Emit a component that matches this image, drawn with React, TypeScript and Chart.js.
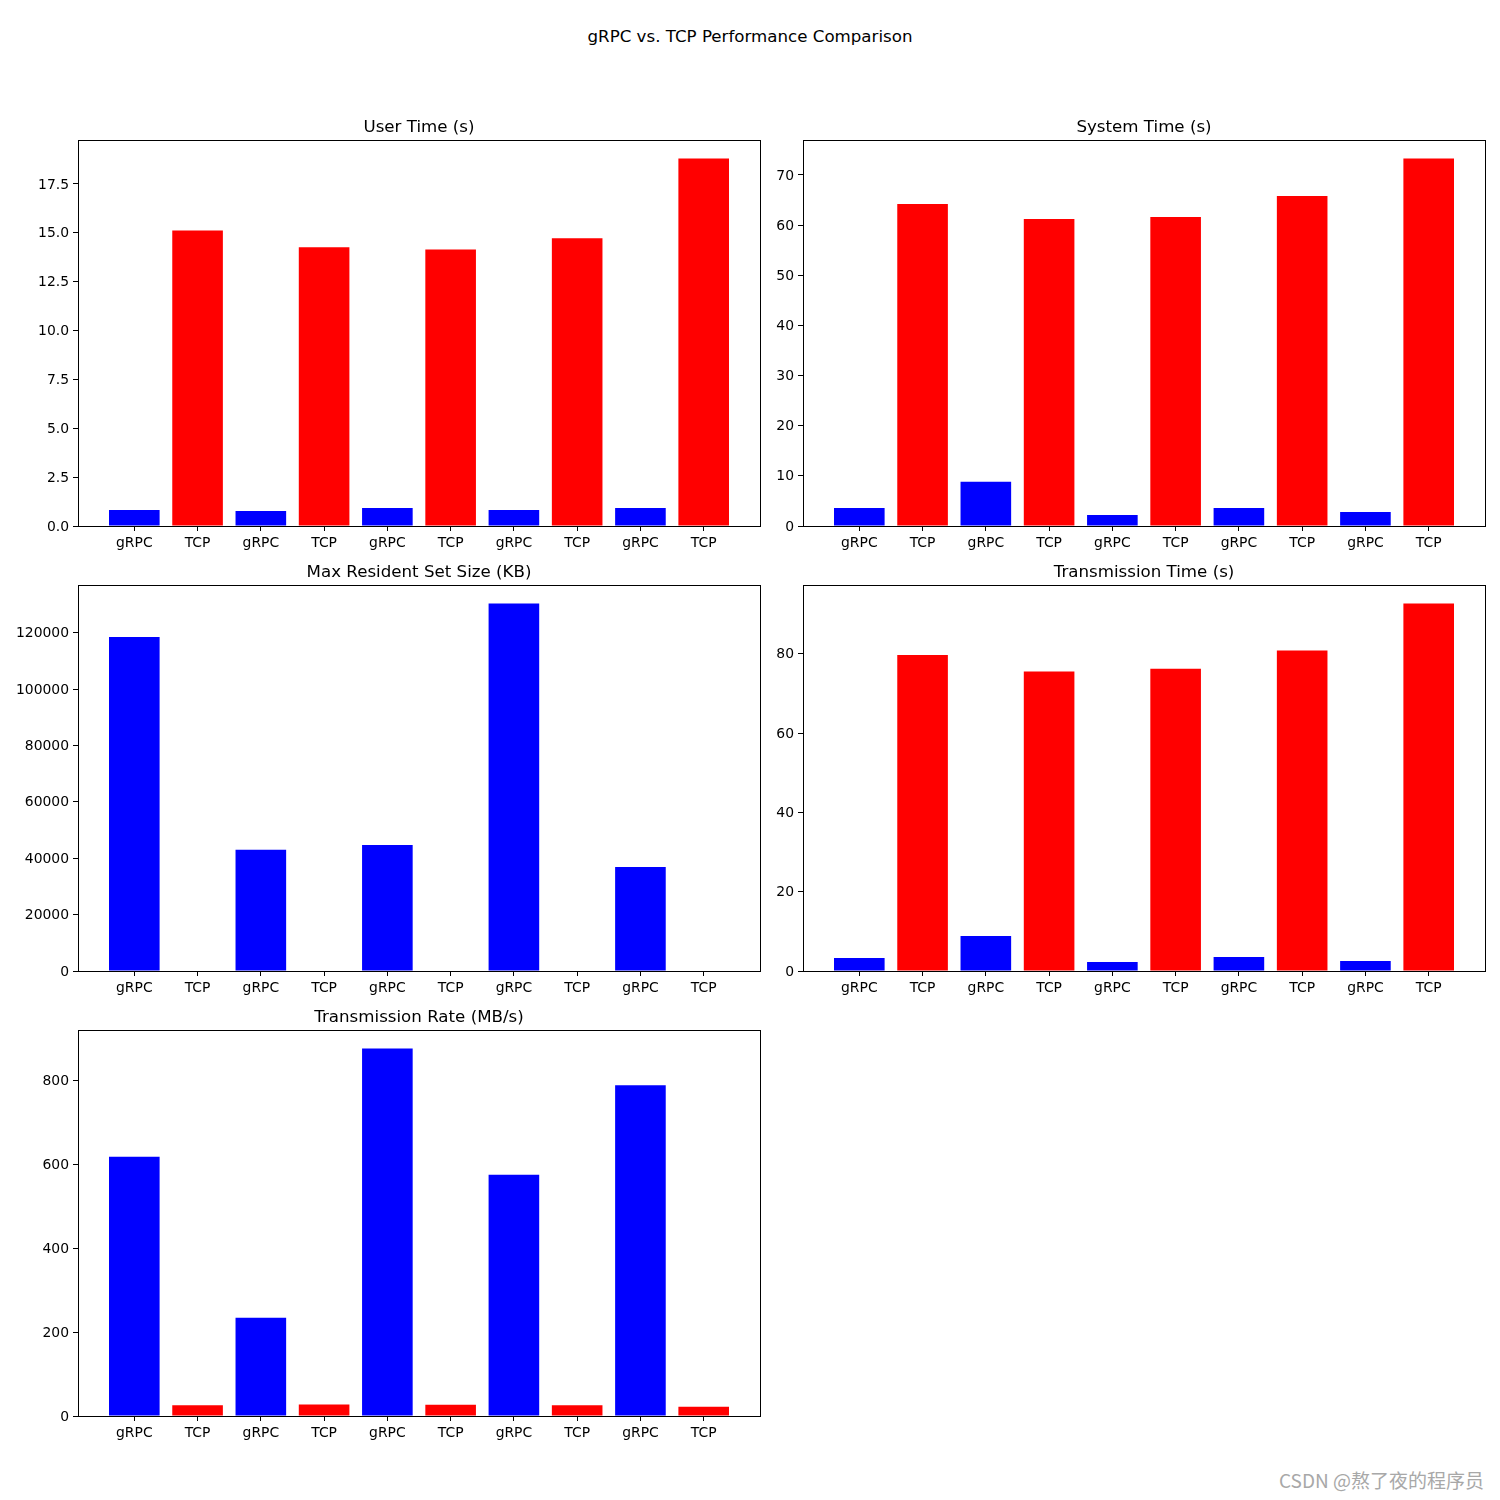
import React, { useEffect, useRef } from 'react';
import { Chart, registerables } from 'chart.js';

Chart.register(...registerables);

// ---- data ----
const categories = ['gRPC', 'TCP', 'gRPC', 'TCP', 'gRPC', 'TCP', 'gRPC', 'TCP', 'gRPC', 'TCP'];

const grpcUserTime = [0.82, 0.77, 0.92, 0.82, 0.92];
const tcpUserTime = [15.12, 14.26, 14.15, 14.72, 18.81];

const grpcSystemTime = [3.6, 8.8, 2.2, 3.6, 2.8];
const tcpSystemTime = [64.2, 61.2, 61.6, 65.8, 73.3];

const grpcMaxRss = [118500, 43000, 44700, 130400, 36900];
const tcpMaxRss = [0, 0, 0, 0, 0];

const grpcTransTime = [3.3, 8.8, 2.3, 3.55, 2.55];
const tcpTransTime = [79.7, 75.5, 76.2, 80.8, 92.7];

const grpcRate = [618, 234, 876, 575, 788];
const tcpRate = [25.8, 27.2, 26.9, 25.4, 22.1];

const superTitle = 'gRPC vs. TCP Performance Comparison';
const watermark = 'CSDN @熬了夜的程序员';

const GRPC_COLOR = '#0000ff';
const TCP_COLOR = '#ff0000';
const FONT = "'DejaVu Sans', 'Noto Sans', sans-serif";

type Panel = {
  title: string;
  grpc: number[];
  tcp: number[];
  step: number;
  decimals: number;
  box: [number, number, number, number]; // L, T, R, B of axes
};

const panels: Panel[] = [
  { title: 'User Time (s)', grpc: grpcUserTime, tcp: tcpUserTime, step: 2.5, decimals: 1, box: [78, 140, 760, 526] },
  { title: 'System Time (s)', grpc: grpcSystemTime, tcp: tcpSystemTime, step: 10, decimals: 0, box: [803, 140, 1485, 526] },
  { title: 'Max Resident Set Size (KB)', grpc: grpcMaxRss, tcp: tcpMaxRss, step: 20000, decimals: 0, box: [78, 585, 760, 971] },
  { title: 'Transmission Time (s)', grpc: grpcTransTime, tcp: tcpTransTime, step: 20, decimals: 0, box: [803, 585, 1485, 971] },
  { title: 'Transmission Rate (MB/s)', grpc: grpcRate, tcp: tcpRate, step: 200, decimals: 0, box: [78, 1030, 760, 1416] },
];

const Y_W = 75;
const TOP_H = 30;
const X_H = 30;
const RIGHT_PAD = 10;

const spinePlugin = {
  id: 'spines',
  afterDraw(chart: any) {
    const { left, top, right, bottom } = chart.chartArea;
    const ctx = chart.ctx;
    ctx.save();
    ctx.strokeStyle = '#000';
    ctx.lineWidth = 1;
    ctx.strokeRect(Math.round(left) + 0.5, Math.round(top) + 0.5, Math.round(right) - Math.round(left), Math.round(bottom) - Math.round(top));
    ctx.restore();
  },
};

function BarPanel({ panel }: { panel: Panel }) {
  const ref = useRef<HTMLCanvasElement | null>(null);
  const [L, T, R, B] = panel.box;
  const w = R - L + Y_W + RIGHT_PAD;
  const h = B - T + TOP_H + X_H;

  useEffect(() => {
    if (!ref.current) return;
    const values: number[] = [];
    const colors: string[] = [];
    for (let i = 0; i < panel.grpc.length; i++) {
      values.push(panel.grpc[i]);
      colors.push(GRPC_COLOR);
      values.push(panel.tcp[i]);
      colors.push(TCP_COLOR);
    }
    const n = categories.length;
    const lo = -0.4;
    const hi = n - 1 + 0.4;
    const margin = 0.05 * (hi - lo);
    const yMax = Math.max(...values) * 1.05;

    const chart = new Chart(ref.current, {
      type: 'bar',
      data: {
        datasets: [
          {
            data: values.map((v, i) => ({ x: i, y: v })),
            backgroundColor: colors,
            borderWidth: 0,
            categoryPercentage: 1,
            barPercentage: 0.8,
          },
        ],
      },
      options: {
        responsive: false,
        animation: false,
        devicePixelRatio: 1,
        layout: { padding: { left: 0, top: 0, right: RIGHT_PAD, bottom: 0 } },
        plugins: {
          legend: { display: false },
          tooltip: { enabled: false },
          title: {
            display: true,
            fullSize: false,
            text: panel.title,
            color: '#000',
            font: { family: FONT, size: 16.67, weight: 'normal' as any, lineHeight: 1.2 },
            padding: { top: 8, bottom: 2 },
          },
        },
        scales: {
          x: {
            type: 'linear',
            offset: false,
            min: lo - margin,
            max: hi + margin,
            afterBuildTicks: (s: any) => {
              s.ticks = categories.map((_, i) => ({ value: i }));
            },
            afterFit: (s: any) => {
              s.height = X_H;
            },
            ticks: {
              autoSkip: false,
              maxRotation: 0,
              minRotation: 0,
              padding: 4,
              color: '#000',
              font: { family: FONT, size: 13.9 },
              callback: (_v: any, idx: number) => categories[idx],
            },
            grid: {
              display: true,
              offset: false,
              drawOnChartArea: false,
              drawTicks: true,
              tickLength: 5,
              color: '#000',
              lineWidth: 1,
            },
            border: { display: false },
          },
          y: {
            type: 'linear',
            min: 0,
            max: yMax,
            afterBuildTicks: (s: any) => {
              const t: { value: number }[] = [];
              for (let k = 0; k * panel.step <= yMax + 1e-9; k++) t.push({ value: k * panel.step });
              s.ticks = t;
            },
            afterFit: (s: any) => {
              s.width = Y_W;
            },
            ticks: {
              padding: 4,
              labelOffset: 1,
              color: '#000',
              font: { family: FONT, size: 13.9 },
              callback: (v: any) => (panel.decimals ? Number(v).toFixed(panel.decimals) : String(Math.round(Number(v)))),
            },
            grid: {
              display: true,
              drawOnChartArea: false,
              drawTicks: true,
              tickLength: 5,
              color: '#000',
              lineWidth: 1,
            },
            border: { display: false },
          },
        },
      },
      plugins: [spinePlugin],
    } as any);
    return () => chart.destroy();
  }, [panel]);

  return (
    <canvas
      ref={ref}
      width={w}
      height={h}
      style={{ position: 'absolute', left: L - Y_W, top: T - TOP_H, width: w, height: h }}
    />
  );
}

export default function App() {
  return (
    <div style={{ position: 'absolute', left: 0, top: 0, width: 1500, height: 1500, background: '#fff', overflow: 'hidden' }}>
      <div
        style={{
          position: 'absolute',
          left: 0,
          top: 27,
          width: 1500,
          textAlign: 'center',
          fontFamily: FONT,
          fontSize: 16.67,
          lineHeight: '20px',
          color: '#000',
        }}
      >
        {superTitle}
      </div>
      {panels.map((p) => (
        <BarPanel key={p.title} panel={p} />
      ))}
      <div
        style={{
          position: 'absolute',
          right: 16,
          top: 1468,
          fontFamily: "'Noto Sans CJK SC', 'Noto Sans', sans-serif",
          fontSize: 19,
          lineHeight: '24px',
          color: '#a8a8a8',
          whiteSpace: 'nowrap',
        }}
      >
        {watermark}
      </div>
    </div>
  );
}
